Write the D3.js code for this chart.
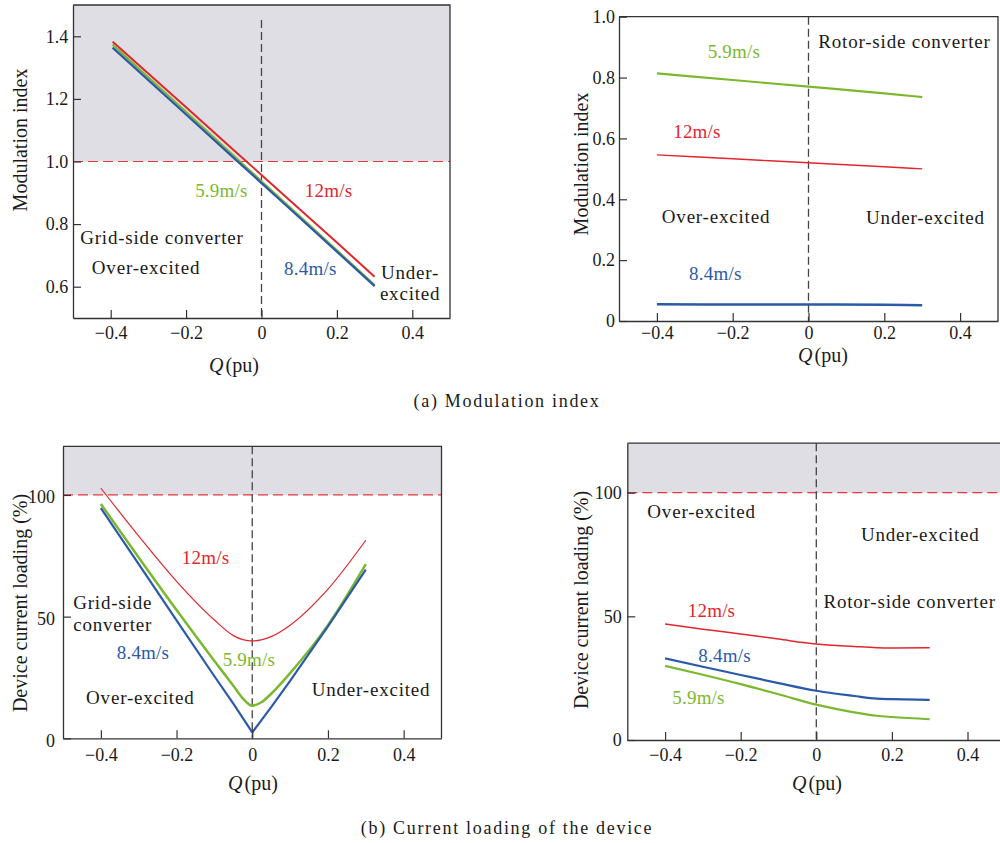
<!DOCTYPE html>
<html>
<head>
<meta charset="utf-8">
<script src="https://cdn.jsdelivr.net/npm/d3@7"></script>
<style>
  html, body { margin: 0; padding: 0; background: #fff; }
  svg { display: block; }
</style>
</head>
<body>
<svg id="chart" width="1000" height="843"></svg>
<script>
// ---- shared axis ticks ----
const qTicks = [-0.4, -0.2, 0, 0.2, 0.4];
const qTickLabels = ["\u22120.4", "\u22120.2", "0", "0.2", "0.4"];
const gridModTicks = [0.6, 0.8, 1.0, 1.2, 1.4];
const gridModTickLabels = ["0.6", "0.8", "1.0", "1.2", "1.4"];
const rotorModTicks = [0, 0.2, 0.4, 0.6, 0.8, 1.0];
const rotorModTickLabels = ["0", "0.2", "0.4", "0.6", "0.8", "1.0"];
const loadTicks = [0, 50, 100];
const loadTickLabels = ["0", "50", "100"];

const speeds = ["12m/s", "8.4m/s", "5.9m/s"];

// ---- (a) modulation index, grid-side converter ----
const gridModQ = [-0.395, -0.2, 0, 0.2, 0.3];
const gridMod12 = [1.383, 1.173, 0.957, 0.741, 0.632];
const gridMod59 = [1.374, 1.158, 0.937, 0.716, 0.605];
const gridMod84 = [1.364, 1.150, 0.931, 0.712, 0.602];

// ---- (a) modulation index, rotor-side converter ----
const rotorModQ = [-0.4, -0.2, 0, 0.2, 0.3];
const rotorMod59 = [0.814, 0.792, 0.770, 0.748, 0.736];
const rotorMod12 = [0.546, 0.533, 0.520, 0.507, 0.500];
const rotorMod84 = [0.055, 0.054, 0.054, 0.053, 0.052];

// ---- (b) device current loading (%), grid-side converter ----
const gridLoadQ12 = [-0.4, -0.3, -0.2, -0.1, -0.05, 0, 0.05, 0.1, 0.2, 0.3];
const gridLoad12 = [102.8, 83.1, 64.5, 48.6, 42.2, 40.0, 41.8, 46.5, 61.3, 81.4];
const gridLoadQ59 = [-0.4, -0.3, -0.2, -0.1, -0.05, -0.025, 0, 0.025, 0.05, 0.1, 0.2, 0.3];
const gridLoad59 = [96.3, 74.3, 52.7, 31.8, 21.6, 16.4, 13.4, 14.9, 18.3, 26.8, 46.5, 71.6];
const gridLoadQ84 = [-0.4, -0.3, -0.2, -0.1, -0.05, 0, 0.05, 0.1, 0.2, 0.3];
const gridLoad84 = [94.6, 71.6, 48.5, 25.5, 14.2, 2.4, 12.8, 23.6, 46.0, 69.3];

// ---- (b) device current loading (%), rotor-side converter ----
const rotorLoadQ = [-0.4, -0.3, -0.2, -0.1, 0, 0.1, 0.16, 0.2, 0.3];
const rotorLoad12 = [46.9, 44.8, 42.9, 40.8, 38.8, 37.8, 37.3, 37.2, 37.3];
const rotorLoad84 = [33.0, 29.6, 26.3, 23.0, 19.9, 17.8, 16.7, 16.5, 16.2];
const rotorLoad59 = [30.0, 26.4, 22.6, 18.5, 14.3, 11.2, 9.8, 9.3, 8.4];

// ---- styling ----
const RED = "#e1262d", GREEN = "#7cb82f", BLUE = "#2b5aa8";
const SHADE = "#dfdee4", INK = "#1a1a1a", AXIS = "#333";
const SERIF = "'Liberation Serif', 'Times New Roman', 'DejaVu Serif', serif";

const svg = d3.select("#chart");
svg.append("rect").attr("width", 1000).attr("height", 843).attr("fill", "#fff");

const zip = (qs, vs) => qs.map((q, i) => [q, vs[i]]);

function drawPanel(p) {
  const x = d3.scaleLinear().domain([-0.5, 0.5]).range(p.xr);
  const y = d3.scaleLinear().domain(p.yd).range(p.yr);
  const g = svg.append("g");
  const [x0, x1] = [x(-0.5), x(0.5)];
  const [yb, yt] = [y(p.yd[0]), y(p.yd[1])];

  // overload band and limit line
  if (p.limit != null) {
    g.append("rect")
      .attr("x", x0).attr("y", yt)
      .attr("width", x1 - x0).attr("height", y(p.limit) - yt)
      .attr("fill", SHADE);
    g.append("line")
      .attr("x1", x0).attr("x2", x1)
      .attr("y1", y(p.limit)).attr("y2", y(p.limit))
      .attr("stroke", "#e23a40").attr("stroke-width", 1.2)
      .attr("stroke-dasharray", "10,5");
  }

  // Q = 0 divider
  g.append("line")
    .attr("x1", x(0)).attr("x2", x(0))
    .attr("y1", y(p.dividerTop != null ? p.dividerTop : p.yd[1])).attr("y2", yb)
    .attr("stroke", "#444").attr("stroke-width", 1.3)
    .attr("stroke-dasharray", "8,4");

  // curves
  p.series.forEach(s => {
    const line = d3.line().x(d => x(d[0])).y(d => y(d[1]))
      .curve(s.sharp ? d3.curveLinear : d3.curveMonotoneX);
    g.append("path")
      .datum(zip(s.q, s.v))
      .attr("d", line)
      .attr("fill", "none")
      .attr("stroke", s.color)
      .attr("stroke-width", s.w)
      .attr("stroke-linejoin", "round");
  });

  // frame (top and right edges)
  g.append("path")
    .attr("d", `M${x0},${yt}H${x1}V${yb}`)
    .attr("fill", "none").attr("stroke", AXIS).attr("stroke-width", 1.3);

  // axes with inward ticks
  const xa = g.append("g")
    .attr("transform", `translate(0,${yb})`)
    .call(d3.axisBottom(x).tickValues(qTicks)
      .tickFormat((d, i) => qTickLabels[i])
      .tickSize(-8).tickSizeOuter(0).tickPadding(p.xPad));
  const ya = g.append("g")
    .attr("transform", `translate(${x0},0)`)
    .call(d3.axisLeft(y).tickValues(p.yTicks)
      .tickFormat((d, i) => p.yTickLabels[i])
      .tickSize(-8).tickSizeOuter(0).tickPadding(p.yPad));
  [xa, ya].forEach(a => {
    a.attr("font-family", SERIF).attr("font-size", 18);
    a.select(".domain").attr("stroke", AXIS).attr("stroke-width", 1.3);
    a.selectAll(".tick line").attr("stroke", AXIS).attr("stroke-width", 1.2);
    a.selectAll(".tick text").attr("fill", INK);
  });
  if (p.yLabelShift) {
    ya.selectAll(".tick text").attr("transform", `translate(0,${p.yLabelShift})`);
  }

  // axis titles
  const xt = g.append("text")
    .attr("x", p.xTitle[0]).attr("y", p.xTitle[1]).attr("dy", "0.35em")
    .attr("text-anchor", "middle")
    .attr("font-family", SERIF).attr("font-size", 20).attr("fill", INK);
  xt.append("tspan").attr("font-style", "italic").text("Q");
  xt.append("tspan").attr("dx", 2).text("(pu)");

  g.append("text")
    .attr("transform", `translate(${p.yTitle[0]},${p.yTitle[1]}) rotate(-90)`)
    .attr("dy", "0.35em")
    .attr("text-anchor", "middle")
    .attr("font-family", SERIF).attr("font-size", 20).attr("fill", INK)
    .text(p.yTitleText);

  // annotations placed in data space
  p.notes.forEach(n => {
    g.append("text")
      .attr("x", x(n.q)).attr("y", y(n.v)).attr("dy", "0.35em")
      .attr("font-family", SERIF).attr("font-size", 19)
      .attr("letter-spacing", n.ls != null ? n.ls : 0.8)
      .attr("fill", n.color || INK)
      .text(n.t);
  });
}

// (a) grid-side modulation index
drawPanel({
  xr: [73, 450], yr: [318, 5], yd: [0.5, 1.5],
  yTicks: gridModTicks, yTickLabels: gridModTickLabels,
  limit: 1.0, dividerTop: 1.452,
  xPad: 8.5, yPad: 4.7,
  xTitle: [234, 365], yTitle: [20, 140], yTitleText: "Modulation index",
  series: [
    { q: gridModQ, v: gridMod12, color: RED, w: 2 },
    { q: gridModQ, v: gridMod59, color: GREEN, w: 2.2 },
    { q: gridModQ, v: gridMod84, color: BLUE, w: 2.2 }
  ],
  notes: [
    { t: speeds[2], q: -0.176, v: 0.909, color: GREEN, ls: 0.2 },
    { t: speeds[0], q: 0.115, v: 0.909, color: RED, ls: 0.2 },
    { t: "Grid-side converter", q: -0.481, v: 0.759 },
    { t: "Over-excited", q: -0.450, v: 0.663 },
    { t: speeds[1], q: 0.060, v: 0.660, color: BLUE, ls: 0.2 },
    { t: "Under-", q: 0.317, v: 0.647 },
    { t: "excited", q: 0.314, v: 0.580 }
  ]
});

// (a) rotor-side modulation index
drawPanel({
  xr: [619, 998], yr: [321, 16.7], yd: [0, 1],
  yTicks: rotorModTicks, yTickLabels: rotorModTickLabels,
  limit: null,
  xPad: 5.5, yPad: 4,
  xTitle: [823, 355], yTitle: [581, 164], yTitleText: "Modulation index",
  series: [
    { q: rotorModQ, v: rotorMod59, color: GREEN, w: 2.2 },
    { q: rotorModQ, v: rotorMod12, color: RED, w: 1.4 },
    { q: rotorModQ, v: rotorMod84, color: BLUE, w: 2.5 }
  ],
  notes: [
    { t: speeds[2], q: -0.266, v: 0.885, color: GREEN, ls: 0.2 },
    { t: "Rotor-side converter", q: 0.026, v: 0.918 },
    { t: speeds[0], q: -0.357, v: 0.624, color: RED, ls: 0.2 },
    { t: "Over-excited", q: -0.387, v: 0.343 },
    { t: "Under-excited", q: 0.152, v: 0.339 },
    { t: speeds[1], q: -0.315, v: 0.157, color: BLUE, ls: 0.2 }
  ]
});

// (b) grid-side current loading
drawPanel({
  xr: [63, 441.5], yr: [738.3, 446.3], yd: [0, 120],
  yTicks: loadTicks, yTickLabels: loadTickLabels,
  limit: 100,
  xPad: 10, yPad: 8, yLabelShift: 2,
  xTitle: [253, 783], yTitle: [20, 603], yTitleText: "Device current loading (%)",
  series: [
    { q: gridLoadQ12, v: gridLoad12, color: RED, w: 1.2 },
    { q: gridLoadQ59, v: gridLoad59, color: GREEN, w: 2.5 },
    { q: gridLoadQ84, v: gridLoad84, color: BLUE, w: 2.2, sharp: true }
  ],
  notes: [
    { t: speeds[0], q: -0.186, v: 74.2, color: RED, ls: 0.2 },
    { t: "Grid-side", q: -0.473, v: 55.7 },
    { t: "converter", q: -0.473, v: 47.0 },
    { t: speeds[1], q: -0.358, v: 35.2, color: BLUE, ls: 0.2 },
    { t: speeds[2], q: -0.078, v: 32.5, color: GREEN, ls: 0.2 },
    { t: "Over-excited", q: -0.439, v: 16.7 },
    { t: "Under-excited", q: 0.157, v: 20.1 }
  ]
});

// (b) rotor-side current loading
drawPanel({
  xr: [627.3, 1005.3], yr: [740, 443.2], yd: [0, 120],
  yTicks: loadTicks, yTickLabels: loadTickLabels,
  limit: 100,
  xPad: 8, yPad: 5.6,
  xTitle: [817, 783], yTitle: [581, 600], yTitleText: "Device current loading (%)",
  series: [
    { q: rotorLoadQ, v: rotorLoad12, color: RED, w: 1.5 },
    { q: rotorLoadQ, v: rotorLoad84, color: BLUE, w: 2.2 },
    { q: rotorLoadQ, v: rotorLoad59, color: GREEN, w: 2.2 }
  ],
  notes: [
    { t: "Over-excited", q: -0.447, v: 92.6 },
    { t: "Under-excited", q: 0.118, v: 83.3 },
    { t: "Rotor-side converter", q: 0.019, v: 55.9 },
    { t: speeds[0], q: -0.340, v: 52.6, color: RED, ls: 0.2 },
    { t: speeds[1], q: -0.312, v: 34.4, color: BLUE, ls: 0.2 },
    { t: speeds[2], q: -0.381, v: 17.1, color: GREEN, ls: 0.2 }
  ]
});

// sub-figure captions
const captions = ["(a) Modulation index", "(b) Current loading of the device"];
[[507, 401], [507, 828]].forEach((pos, i) => {
  svg.append("text")
    .attr("x", pos[0]).attr("y", pos[1]).attr("dy", "0.35em")
    .attr("text-anchor", "middle")
    .attr("font-family", SERIF).attr("font-size", 18)
    .attr("letter-spacing", 1.7).attr("fill", INK)
    .text(captions[i]);
});
</script>
</body>
</html>
